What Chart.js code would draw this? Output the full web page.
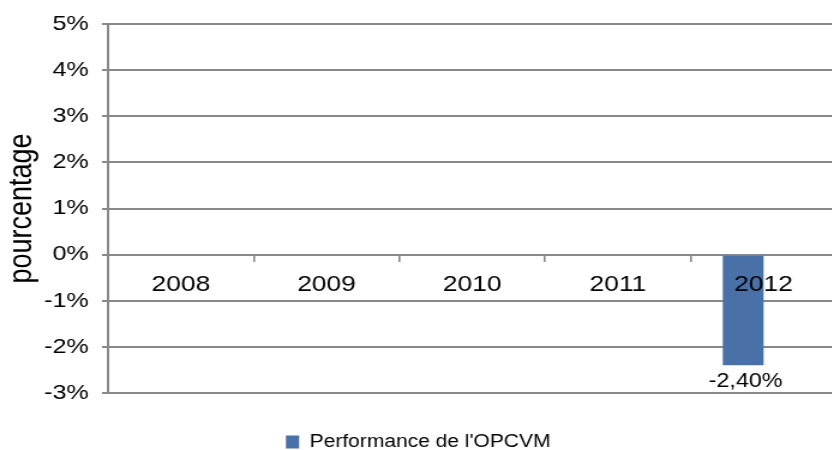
<!DOCTYPE html>
<html>
<head>
<meta charset="utf-8">
<script src="https://cdn.jsdelivr.net/npm/chart.js@4/dist/chart.umd.min.js"></script>
<style>
  html, body { margin: 0; padding: 0; overflow: hidden; background: #fff; }
  /* the reference is stretched horizontally, so the chart is drawn narrower and scaled */
  #wrap { width: 697px; height: 450px; transform: scaleX(1.2); transform-origin: 0 0; }
</style>
</head>
<body>
<div id="wrap"><canvas id="chart"></canvas></div>
<script>
const years = ['2008', '2009', '2010', '2011', '2012'];
const performance = [null, null, null, null, -2.4];
// second (empty) series of the original clustered chart, keeps the bar off-centre
const secondSeries = [null, null, null, null, null];
const yMin = -3;
const yMax = 5;

const FONT = "'Liberation Sans', Arial, sans-serif";
const GRID = '#888888';

// valeur affichée sous la barre
const barLabels = {
  id: 'barLabels',
  afterDatasetsDraw(chart) {
    const ctx = chart.ctx;
    const meta = chart.getDatasetMeta(0);
    ctx.save();
    ctx.font = '19.5px ' + FONT;
    ctx.fillStyle = '#000';
    ctx.textAlign = 'center';
    ctx.textBaseline = 'middle';
    meta.data.forEach((bar, i) => {
      const v = performance[i];
      if (v === null) return;
      const text = v.toFixed(2).replace('.', ',') + '%';
      ctx.fillText(text, bar.x + 2, bar.y + 16);
    });
    ctx.restore();
  }
};

new Chart(document.getElementById('chart'), {
  type: 'bar',
  data: {
    labels: years,
    datasets: [
      {
        label: "Performance de l'OPCVM",
        data: performance,
        backgroundColor: '#4A71A7'
      },
      {
        label: 'serie2',
        data: secondSeries,
        backgroundColor: '#C0504D'
      }
    ]
  },
  options: {
    responsive: true,
    maintainAspectRatio: false,
    animation: false,
    categoryPercentage: 0.56,
    barPercentage: 1,
    layout: { padding: { top: 24, right: 0, bottom: -10.75, left: 0 } },
    scales: {
      x: {
        position: { y: 0 },
        offset: true,
        grid: { offset: true, drawOnChartArea: false, tickLength: 6, color: GRID, lineWidth: 1.6 },
        border: { color: GRID, width: 2 },
        ticks: { z: 1, font: { family: FONT, size: 22 }, color: '#000', padding: 11 }
      },
      y: {
        min: yMin,
        max: yMax,
        afterFit(scale) { scale.width = 90; },
        ticks: {
          stepSize: 1,
          font: { family: FONT, size: 21 },
          color: '#000',
          padding: 11,
          callback: v => v + '%'
        },
        grid: { color: GRID, lineWidth: 2, tickLength: 5 },
        border: { color: GRID, width: 2 },
        title: {
          display: true,
          text: 'pourcentage',
          font: { family: FONT, size: 27 },
          color: '#000',
          padding: { top: 2, bottom: 0 }
        }
      }
    },
    plugins: {
      legend: {
        position: 'bottom',
        labels: {
          font: { family: FONT, size: 17.5 },
          color: '#000',
          boxWidth: 11,
          boxHeight: 13,
          padding: 40.25,
          filter: item => item.datasetIndex === 0
        }
      },
      tooltip: { enabled: false }
    }
  },
  plugins: [barLabels]
});
</script>
</body>
</html>
